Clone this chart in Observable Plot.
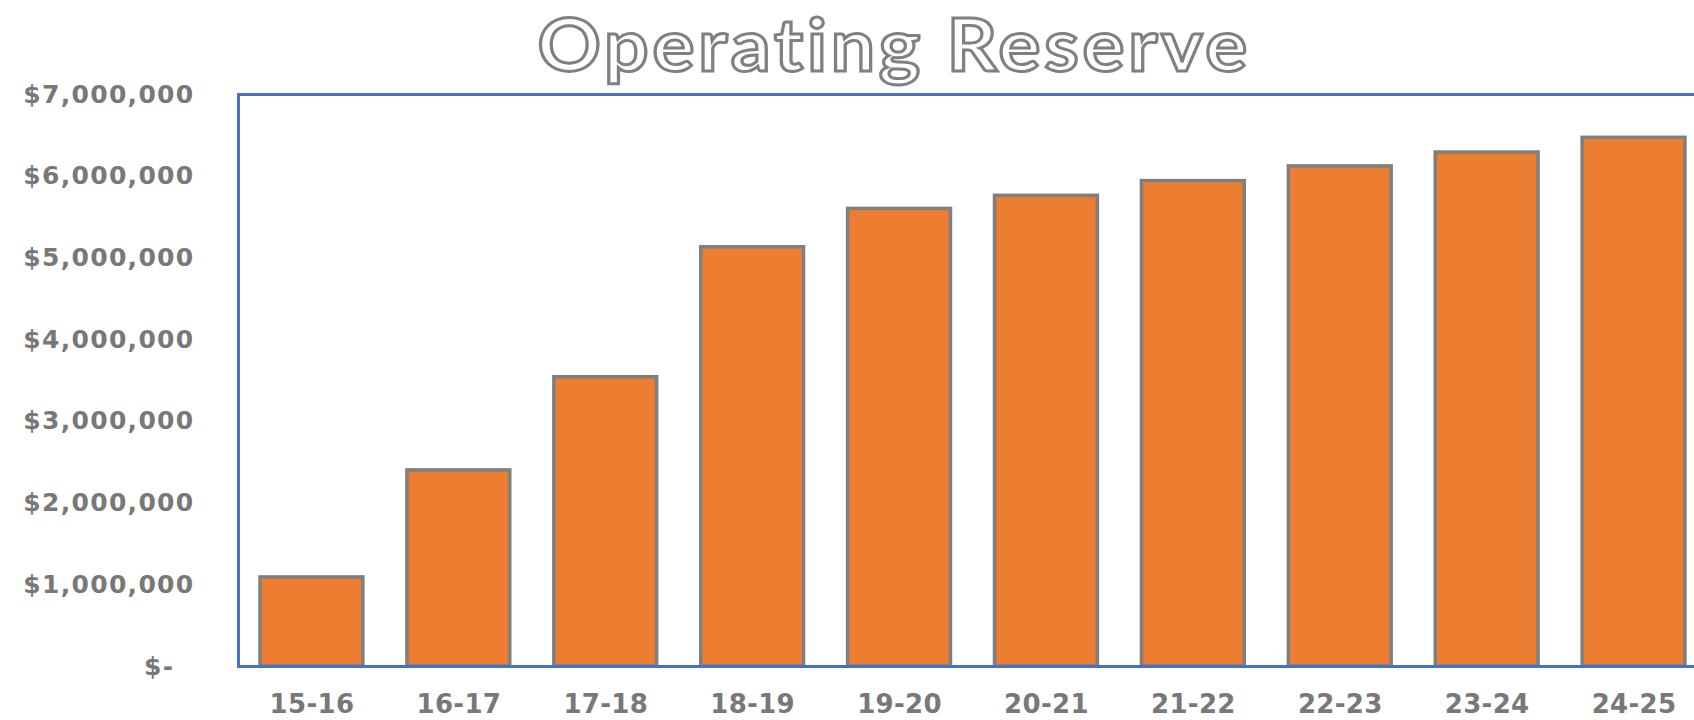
<!DOCTYPE html>
<html>
<head>
<meta charset="utf-8">
<script src="https://cdn.jsdelivr.net/npm/d3@7"></script>
<script src="https://cdn.jsdelivr.net/npm/@observablehq/plot@0.6"></script>
<style>
  html, body { margin: 0; padding: 0; background: #fff; overflow: hidden; width: 1694px; height: 720px; }
  #title {
    box-sizing: border-box; width: 1694px; padding-left: 94px;
    height: 80px; overflow: visible; text-align: center; white-space: nowrap;
  }
  #title span {
    display: inline-block; transform: scaleX(1.09); transform-origin: 50% 50%;
    line-height: 87px;
    font-family: Lato, "Open Sans", sans-serif; font-size: 72px; font-weight: 700;
    letter-spacing: 3.5px; font-variant-ligatures: none;
    color: #fff; -webkit-text-stroke: 3px #808080;
  }
  #chart svg { display: block; }
</style>
</head>
<body>
<div id="title"><span>Operating Reserve</span></div>
<div id="chart"></div>
<script>
const categories = ["15-16", "16-17", "17-18", "18-19", "19-20", "20-21", "21-22", "22-23", "23-24", "24-25"];
const reserve = [1090000, 2400000, 3540000, 5130000, 5600000, 5760000, 5940000, 6120000, 6290000, 6470000];
const yTicks = [0, 1000000, 2000000, 3000000, 4000000, 5000000, 6000000, 7000000];

const data = categories.map((c, i) => ({year: c, value: reserve[i]}));
const fmt = d3.format(",");

const chart = Plot.plot({
  width: 1707,
  height: 640,
  marginTop: 14,
  marginBottom: 54,
  marginLeft: 238,
  marginRight: 0,
  style: {
    maxWidth: "none",
    fontFamily: "DejaVu Sans",
    fontWeight: "bold",
    fontSize: "25px",
    color: "#787878",
    letterSpacing: "1.3px",
    background: "#fff"
  },
  x: {domain: categories, paddingInner: 0.3, paddingOuter: 0.15, round: false, label: null},
  y: {domain: [0, 7000000], label: null},
  marks: [
    Plot.barY(data, {x: "year", y: "value", fill: "#ED7D31", stroke: "#7F7F7F", strokeWidth: 3.5}),
    Plot.frame({stroke: "#4472C4", strokeWidth: 3}),
    Plot.axisY({ticks: yTicks, tickSize: 0, tickPadding: 44, fontSize: 25,
      tickFormat: d => d === 0 ? "$-\u00a0\u00a0" : "$" + fmt(d)}),
    Plot.axisX({tickSize: 0, tickPadding: 28, fontSize: 26})
  ]
});
d3.select(chart).selectAll('g[aria-label="x-axis tick label"]').style("letter-spacing", "0.3px");
document.getElementById("chart").appendChild(chart);
</script>
</body>
</html>
